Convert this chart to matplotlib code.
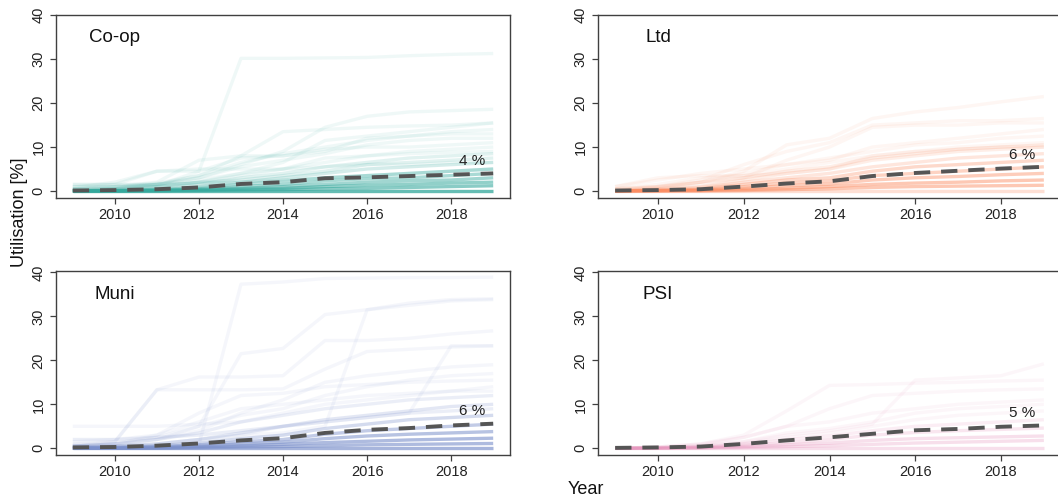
import matplotlib
matplotlib.use("Agg")
import matplotlib.pyplot as plt
import numpy as np

plt.rcParams['font.family'] = ['Liberation Sans', 'DejaVu Sans']

years = [2009, 2010, 2011, 2012, 2013, 2014, 2015, 2016, 2017, 2018, 2019]
panel_names = ["Co-op", "Ltd", "Muni", "PSI"]
panel_colors = ["#34a89c", "#fb8a5e", "#7b90cb", "#e487b4"]
end_labels = ["4 %", "6 %", "6 %", "5 %"]

# mean utilisation per group (dashed line)
coop_mean = [0.1, 0.2, 0.4, 0.8, 1.6, 2.0, 2.9, 3.1, 3.4, 3.7, 4.0]
ltd_mean = [0.1, 0.2, 0.4, 1.0, 1.7, 2.2, 3.4, 4.1, 4.6, 5.1, 5.5]
muni_mean = [0.2, 0.3, 0.6, 1.1, 1.8, 2.3, 3.5, 4.2, 4.6, 5.2, 5.6]
psi_mean = [0.1, 0.2, 0.4, 1.0, 1.8, 2.5, 3.3, 4.1, 4.4, 4.9, 5.2]

# individual trajectories (representative) and how many overlap each
coop_lines = [
    [1.0, 1.0, 1.2, 4.5, 30.2, 30.2, 30.3, 30.4, 30.8, 31.1, 31.3],
    [0.5, 0.8, 1.5, 3.0, 6.0, 9.0, 14.5, 17.0, 18.0, 18.3, 18.6],
    [0.3, 0.6, 1.5, 3.5, 8.0, 13.5, 14.0, 14.5, 14.8, 15.0, 15.5],
    [0.2, 0.5, 1.0, 2.0, 4.0, 6.5, 11.5, 12.5, 13.5, 14.5, 15.5],
    [1.0, 1.5, 4.5, 4.5, 7.5, 8.0, 9.0, 12.0, 12.5, 13.0, 13.0],
    [0.5, 1.0, 2.0, 7.0, 8.0, 8.0, 9.5, 10.0, 10.0, 10.5, 11.0],
    [0.2, 0.5, 1.5, 3.0, 5.5, 7.0, 8.5, 10.5, 11.5, 12.0, 12.0],
    [0.4, 0.8, 1.8, 3.5, 6.5, 8.5, 10.0, 11.5, 12.5, 13.5, 14.0],
    [0.0, 0.3, 1.0, 2.0, 3.5, 5.0, 6.5, 8.0, 9.0, 9.5, 10.0],
    [0.5, 1.0, 1.5, 2.5, 4.0, 5.0, 7.5, 8.0, 8.5, 8.8, 9.0],
    [0.0, 0.2, 0.8, 1.5, 3.0, 4.0, 5.5, 6.5, 7.5, 8.0, 8.5],
    [0.3, 0.5, 1.0, 2.0, 2.5, 3.5, 4.5, 6.0, 6.5, 7.0, 7.5],
    [1.5, 1.5, 1.5, 1.8, 2.0, 2.5, 3.0, 3.5, 4.0, 4.5, 5.0],
    [0.8, 2.0, 4.5, 5.0, 5.0, 5.0, 5.5, 6.0, 6.0, 6.5, 6.5],
    [0.0, 0.2, 0.5, 1.0, 2.0, 3.0, 4.0, 5.0, 5.5, 6.0, 6.5],
    [0.0, 0.1, 0.3, 0.8, 1.5, 2.2, 3.0, 3.5, 4.0, 4.5, 5.0],
    [0.0, 0.1, 0.2, 0.5, 1.0, 1.5, 2.3, 2.8, 3.0, 3.5, 4.0],
    [0.0, 0.0, 0.2, 0.3, 0.6, 1.0, 1.5, 2.0, 2.3, 2.5, 3.0],
    [0.0, 0.0, 0.1, 0.2, 0.4, 0.6, 1.0, 1.3, 1.5, 1.8, 2.0],
    [0.0, 0.0, 0.0, 0.1, 0.2, 0.3, 0.5, 0.6, 0.8, 1.0, 1.2],
    [0.0, 0.0, 0.0, 0.0, 0.0, 0.0, 0.0, 0.0, 0.0, 0.0, 0.0],
]
coop_counts = [1, 1, 1, 1, 1, 1, 1, 1, 1, 1, 2, 2, 2, 1, 3, 5, 7, 8, 10, 11, 18]

ltd_lines = [
    [0.5, 1.0, 2.0, 4.5, 10.5, 12.0, 16.5, 18.0, 19.0, 20.3, 21.5],
    [0.3, 1.0, 2.5, 6.0, 9.0, 11.0, 15.0, 15.5, 16.0, 16.0, 16.5],
    [0.0, 0.5, 1.5, 3.0, 7.0, 10.0, 14.5, 15.0, 15.0, 15.5, 15.5],
    [1.0, 2.5, 4.0, 5.0, 6.0, 7.0, 10.0, 11.0, 12.0, 13.0, 14.0],
    [0.5, 1.0, 2.0, 4.0, 6.0, 7.5, 9.0, 10.5, 11.0, 12.0, 12.5],
    [1.0, 3.0, 3.5, 3.5, 4.0, 5.0, 8.0, 9.0, 9.5, 10.0, 10.0],
    [0.5, 1.5, 3.0, 3.5, 5.0, 6.5, 8.0, 9.0, 10.0, 10.5, 11.0],
    [0.2, 0.8, 2.0, 3.0, 4.5, 5.5, 7.5, 8.5, 9.5, 10.0, 10.5],
    [0.0, 0.5, 1.0, 2.5, 4.0, 5.0, 7.0, 8.0, 9.0, 9.5, 10.0],
    [0.0, 0.3, 0.8, 2.0, 3.0, 4.0, 5.5, 6.5, 7.5, 8.0, 8.5],
    [0.0, 0.2, 0.5, 1.5, 2.5, 3.0, 4.5, 5.5, 6.0, 6.5, 7.0],
    [0.0, 0.1, 0.3, 1.0, 1.8, 2.3, 3.5, 4.0, 4.5, 5.0, 5.5],
    [0.0, 0.1, 0.2, 0.6, 1.2, 1.6, 2.5, 3.0, 3.3, 3.7, 4.0],
    [0.0, 0.0, 0.1, 0.3, 0.6, 1.0, 1.5, 1.8, 2.0, 2.3, 2.5],
    [0.0, 0.0, 0.0, 0.1, 0.3, 0.5, 0.8, 1.0, 1.1, 1.2, 1.3],
    [0.0, 0.0, 0.0, 0.0, 0.0, 0.0, 0.0, 0.0, 0.0, 0.0, 0.0],
]
ltd_counts = [1, 1, 1, 1, 1, 1, 1, 2, 2, 3, 5, 6, 7, 8, 8, 4]

muni_lines = [
    [0.5, 0.5, 0.5, 0.8, 37.3, 37.8, 38.6, 38.7, 38.8, 38.8, 38.9],
    [0.5, 1.0, 2.0, 5.0, 21.5, 22.7, 30.4, 31.5, 33.0, 33.8, 34.0],
    [0.3, 0.5, 1.0, 2.0, 3.0, 3.5, 5.0, 31.5, 32.5, 33.5, 33.8],
    [1.0, 1.5, 13.3, 16.2, 16.2, 16.5, 24.5, 24.5, 25.0, 26.0, 26.7],
    [0.5, 0.5, 1.0, 2.0, 3.0, 5.0, 6.0, 7.0, 8.0, 23.3, 23.3],
    [0.5, 1.5, 13.3, 13.3, 13.3, 13.5, 18.0, 22.0, 22.5, 23.0, 23.3],
    [0.5, 1.0, 2.0, 4.0, 8.0, 11.0, 15.0, 16.5, 17.5, 18.5, 19.0],
    [0.5, 1.0, 3.0, 8.0, 12.0, 12.5, 14.0, 14.5, 15.0, 15.3, 15.5],
    [5.0, 5.0, 5.0, 5.5, 6.0, 8.0, 10.0, 11.0, 12.0, 13.0, 14.0],
    [1.5, 2.0, 3.0, 6.0, 9.0, 10.0, 11.0, 12.0, 12.5, 13.0, 13.0],
    [0.8, 1.2, 2.5, 5.0, 7.5, 9.0, 12.0, 14.0, 15.5, 16.5, 17.0],
    [2.0, 2.0, 2.5, 3.0, 4.0, 5.0, 6.0, 7.0, 8.0, 8.5, 9.0],
    [0.5, 1.0, 2.0, 3.5, 6.0, 7.5, 9.0, 10.0, 11.0, 11.5, 12.0],
    [0.3, 0.5, 1.0, 2.0, 3.5, 5.0, 6.5, 7.5, 8.5, 9.5, 10.0],
    [0.2, 0.3, 0.6, 1.2, 2.2, 3.0, 4.5, 5.5, 6.5, 7.0, 7.5],
    [0.1, 0.2, 0.4, 0.8, 1.5, 2.0, 3.2, 4.0, 4.5, 5.0, 5.5],
    [0.0, 0.1, 0.2, 0.5, 1.0, 1.4, 2.2, 2.8, 3.2, 3.5, 3.8],
    [0.0, 0.0, 0.1, 0.3, 0.6, 0.9, 1.3, 1.6, 1.9, 2.1, 2.3],
    [0.0, 0.0, 0.0, 0.1, 0.3, 0.4, 0.6, 0.8, 0.9, 1.0, 1.1],
    [0.0, 0.0, 0.0, 0.0, 0.0, 0.0, 0.0, 0.0, 0.0, 0.0, 0.0],
]
muni_counts = [1, 1, 1, 1, 1, 1, 1, 1, 1, 1, 1, 2, 2, 3, 5, 8, 10, 12, 12, 14]

psi_lines = [
    [0.0, 0.2, 0.5, 1.5, 3.0, 4.0, 5.5, 15.5, 16.0, 16.5, 19.2],
    [0.0, 0.3, 1.0, 3.0, 8.5, 14.3, 14.5, 14.8, 15.0, 15.3, 15.5],
    [0.0, 0.2, 0.8, 2.5, 5.0, 9.0, 12.0, 12.5, 13.0, 13.3, 13.5],
    [0.0, 0.3, 1.0, 2.5, 5.0, 6.0, 8.0, 9.0, 10.0, 10.5, 11.0],
    [0.0, 0.2, 0.5, 1.5, 3.5, 4.5, 6.0, 8.0, 9.0, 9.5, 10.0],
    [0.0, 0.1, 0.4, 1.2, 2.5, 3.5, 5.0, 6.5, 7.5, 8.0, 8.5],
    [0.0, 0.1, 0.3, 1.0, 2.0, 2.8, 4.0, 5.0, 5.5, 6.0, 6.5],
    [0.0, 0.1, 0.2, 0.7, 1.3, 2.0, 3.0, 3.6, 4.0, 4.3, 4.6],
    [0.0, 0.0, 0.1, 0.4, 0.8, 1.2, 1.8, 2.2, 2.4, 2.6, 2.8],
    [0.0, 0.0, 0.1, 0.2, 0.4, 0.6, 0.9, 1.2, 1.4, 1.6, 1.8],
    [0.0, 0.0, 0.0, 0.0, 0.0, 0.0, 0.0, 0.0, 0.0, 0.0, 0.0],
]
psi_counts = [1, 1, 1, 1, 1, 1, 2, 3, 4, 4, 4]

all_lines = [coop_lines, ltd_lines, muni_lines, psi_lines]
all_counts = [coop_counts, ltd_counts, muni_counts, psi_counts]
all_means = [coop_mean, ltd_mean, muni_mean, psi_mean]

W, H = 1058, 500
fig = plt.figure(figsize=(W / 100, H / 100), dpi=100)

# axes boxes in pixels: left, top, width, height
boxes = [(56, 15, 454, 183), (598, 15, 463, 183),
         (56, 271, 454, 184), (598, 271, 463, 184)]
ylims = [(-1.6, 40.07), (-1.6, 40.07), (-1.52, 40.3), (-1.52, 40.3)]

base_alpha = 0.075
frame_col = "#404040"
for k in range(4):
    l, t, w, h = boxes[k]
    ax = fig.add_axes([l / W, 1 - (t + h) / H, w / W, h / H])
    col = panel_colors[k]
    for line, n in zip(all_lines[k], all_counts[k]):
        a = 1 - (1 - base_alpha) ** n
        ax.plot(years, line, color=col, alpha=a, lw=2.4,
                solid_capstyle='butt', solid_joinstyle='round')
    ax.plot(years, all_means[k], color="#555555", lw=2.8,
            dashes=(4.2, 2.8), dash_capstyle='butt', zorder=5)
    ax.text(2018.5, all_means[k][-1] + 2.8, end_labels[k], fontsize=11,
            ha='center', va='center', color="#222222", zorder=6)
    ax.text(2010, 35, panel_names[k], fontsize=13.5, ha='center',
            va='center', color="#111111")
    ax.set_xlim(2008.6, 2019.4)
    ax.set_ylim(*ylims[k])
    ax.set_xticks([2010, 2012, 2014, 2016, 2018])
    ax.set_yticks([0, 10, 20, 30, 40])
    ax.tick_params(axis='both', length=4.5, width=0.9, color=frame_col,
                   labelsize=10.5, labelcolor="#222222", pad=3)
    for lab in ax.get_yticklabels():
        lab.set_rotation(90)
        lab.set_va('center')
    for sp in ax.spines.values():
        sp.set_color(frame_col)
        sp.set_linewidth(1.0)

fig.text(20 / W, 1 - 212 / H, "Utilisation [%]", rotation=90, fontsize=13,
         ha='center', va='center', color="#111111")
fig.text(586 / W, 1 - 490 / H, "Year", fontsize=13, ha='center',
         va='center', color="#111111")

fig.savefig("out.png", dpi=100)
